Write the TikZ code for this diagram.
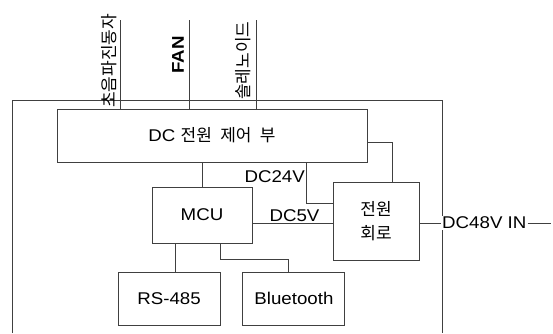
\documentclass[tikz,border=0pt]{standalone}
\usepackage{fontspec}
\setmainfont[FakeStretch=1.1]{Liberation Sans}
\newfontfamily\kr[WordSpace=2.2]{Noto Sans CJK KR}
\usepackage{xcolor}
\usetikzlibrary{positioning}

\definecolor{ln}{gray}{0.25}

\begin{document}
\begin{tikzpicture}[x=1pt, y=-1pt,
        blok/.style={draw=ln, line width=0.9pt, inner sep=0pt, align=center,
            font=\fontsize{17}{21}\selectfont},
        wire/.style={draw=ln, line width=0.9pt},
        lbl/.style={inner sep=0pt, font=\fontsize{17}{21}\selectfont}]
        \useasboundingbox (0,0) rectangle (553,333);

        % Scatola esterna
        \draw[wire] (12,333) |- (442,100) -- (442,333);

        % Blocchi
        \node[blok, minimum width=310pt, minimum height=53pt] (ctrl) at (212,135.5) {DC {\kr 전원 제어 부}};
        \node[blok, minimum width=100pt, minimum height=56pt] (mcu) at (202,215) {MCU};
        \node[blok, minimum width=86pt, minimum height=78pt] (pwr) at (376,221.5) {{\kr 전원}\\[3pt]{\kr 회로}};
        \node[blok, minimum width=102pt, minimum height=53pt] (rs) at (169,298.5) {RS-485};
        \node[blok, minimum width=102pt, minimum height=53pt, right=22pt of rs] (bt) {Bluetooth};

        % Uscite in alto
        \coordinate (t1) at (120,20);
        \coordinate (t2) at (189,20);
        \coordinate (t3) at (256,20);
        \draw[wire] (t1) -- (t1 |- ctrl.north);
        \draw[wire] (t2) -- (t2 |- ctrl.north);
        \draw[wire] (t3) -- (t3 |- ctrl.north);
        \node[lbl, rotate=90, anchor=south west] (l1) at (117,108) {\kr 초음파진동자};
        \node[lbl, rotate=90, anchor=south west, font=\fontsize{17}{21}\selectfont\bfseries] (l2) at (184,74) {FAN};
        \node[lbl, rotate=90, anchor=south west] (l3) at (251,100) {\kr 솔레노이드};

        % Collegamenti
        \draw[wire] (mcu.north) -- (mcu.north |- ctrl.south);
        \coordinate (c24) at (306,203);
        \draw[wire] (ctrl.south -| c24) |- (pwr.west |- c24);
        \node[lbl, anchor=base east] (v24) at (305,182) {DC24V};
        \coordinate (fb) at (392,142);
        \draw[wire] (ctrl.east |- fb) -| (pwr.north -| fb);
        \coordinate (c5) at (300,223);
        \draw[wire] (mcu.east |- c5) -- (pwr.west |- c5);
        \node[lbl, anchor=base] (v5) at (294.5,221.5) {DC5V};
        \node[lbl, anchor=west, fill=white, inner sep=1pt] (in48) at (441,223) {DC48V IN};
        \draw[wire] (pwr.east |- c5) -- (in48.west);
        \coordinate (c48) at (551,223);
        \draw[wire] (in48.east) -- (c48);
        \coordinate (c485) at (175,0);
        \draw[wire] (c485 |- mcu.south) -- (c485 |- rs.north);
        \coordinate (cbt) at (220,259);
        \draw[wire] (cbt |- mcu.south) -- (cbt) -| ([xshift=-5pt]bt.north);
    \end{tikzpicture}
\end{document}
